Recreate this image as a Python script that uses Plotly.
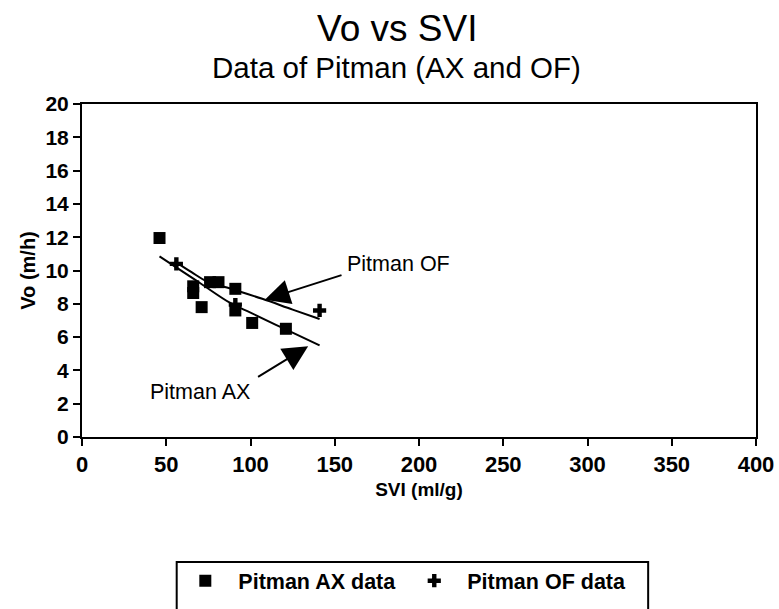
import plotly.graph_objects as go

# Data
ax_svi = [46, 66, 66, 71, 76, 81, 91, 91, 101, 121]
ax_vo = [11.95, 9.05, 8.65, 7.8, 9.3, 9.3, 8.9, 7.6, 6.85, 6.5]

of_svi = [56, 91, 141]
of_vo = [10.4, 7.95, 7.6]

ax_fit_svi = [46, 55, 70, 88, 100, 119, 141]
ax_fit_vo = [10.85, 10.25, 9.25, 8.05, 7.47, 6.55, 5.5]

of_fit_svi = [55, 65, 74, 90, 107, 125, 141]
of_fit_vo = [10.55, 9.9, 9.35, 8.85, 8.3, 7.65, 7.09]

x_ticks = [0, 50, 100, 150, 200, 250, 300, 350, 400]
y_ticks = [0, 2, 4, 6, 8, 10, 12, 14, 16, 18, 20]

FONT = "Liberation Sans, Arial, sans-serif"

fig = go.Figure()
fig.add_trace(go.Scatter(x=ax_fit_svi, y=ax_fit_vo, mode="lines",
                         line=dict(color="black", width=2, shape="spline"),
                         showlegend=False, hoverinfo="skip"))
fig.add_trace(go.Scatter(x=of_fit_svi, y=of_fit_vo, mode="lines",
                         line=dict(color="black", width=2, shape="spline"),
                         showlegend=False, hoverinfo="skip"))
fig.add_trace(go.Scatter(x=ax_svi, y=ax_vo, mode="markers", name="Pitman AX data",
                         marker=dict(symbol="square", size=12, color="black")))
fig.add_trace(go.Scatter(x=of_svi, y=of_vo, mode="markers", name="Pitman OF data",
                         marker=dict(symbol="cross", size=11, color="black")))

fig.update_xaxes(range=[0, 400], tickvals=x_ticks, ticks="outside", ticklen=7,
                 tickwidth=2, tickcolor="black", showline=True, linewidth=2,
                 linecolor="black", mirror=True, showgrid=False, zeroline=False,
                 tickfont=dict(family=FONT, size=22, color="black", weight="bold"),
                 title=dict(text="SVI (ml/g)", standoff=6,
                            font=dict(family=FONT, size=19, color="black", weight="bold")))
fig.update_yaxes(range=[0, 20], tickvals=y_ticks, ticks="outside", ticklen=7,
                 tickwidth=2, tickcolor="black", showline=True, linewidth=2,
                 linecolor="black", mirror=True, showgrid=False, zeroline=False,
                 tickfont=dict(family=FONT, size=21, color="black", weight="bold"),
                 title=dict(text="Vo (m/h)", standoff=4,
                            font=dict(family=FONT, size=20, color="black", weight="bold")))

annotations = [
    dict(x=108.5, y=8.25, ax=154.9, ay=9.75, xref="x", yref="y", axref="x", ayref="y",
         text="", showarrow=True, arrowhead=2, arrowsize=2.5, arrowwidth=2, arrowcolor="black"),
    dict(x=134.2, y=5.45, ax=103.6, ay=3.55, xref="x", yref="y", axref="x", ayref="y",
         text="", showarrow=True, arrowhead=2, arrowsize=2.5, arrowwidth=2, arrowcolor="black"),
    dict(x=188, y=10.41, xref="x", yref="y", text="Pitman OF", showarrow=False,
         font=dict(family=FONT, size=21.5, color="black")),
    dict(x=70.1, y=2.69, xref="x", yref="y", text="Pitman AX", showarrow=False,
         font=dict(family=FONT, size=21.5, color="black")),
    dict(x=0.467, y=1.226, xref="paper", yref="paper", text="Vo vs SVI", showarrow=False,
         xanchor="center", yanchor="middle", font=dict(family=FONT, size=37, color="black")),
    dict(x=0.467, y=1.109, xref="paper", yref="paper", text="Data of Pitman (AX and OF)",
         showarrow=False, xanchor="center", yanchor="middle",
         font=dict(family=FONT, size=29.5, color="black")),
]

fig.update_layout(
    width=779, height=609,
    margin=dict(l=82, r=23, t=104, b=171.5, autoexpand=False),
    paper_bgcolor="white", plot_bgcolor="white",
    font=dict(family=FONT, color="black"),
    annotations=annotations,
    showlegend=True,
    legend=dict(orientation="h", x=0.134, y=-0.37, xanchor="left", yanchor="top",
                bgcolor="rgba(0,0,0,0)", borderwidth=0, itemwidth=56,
                font=dict(family=FONT, size=21.5, color="black", weight="bold")),
    shapes=[dict(type="rect", xref="paper", yref="paper", x0=0.1405, x1=0.84,
                 y0=-0.375, y1=-0.6, line=dict(color="black", width=2))],
)

# remove the default page margin so the figure sits at the window origin
fig.write_html("out.html", config={"displayModeBar": False},
               post_script="document.body.style.margin='0';document.body.style.overflow='hidden';")
